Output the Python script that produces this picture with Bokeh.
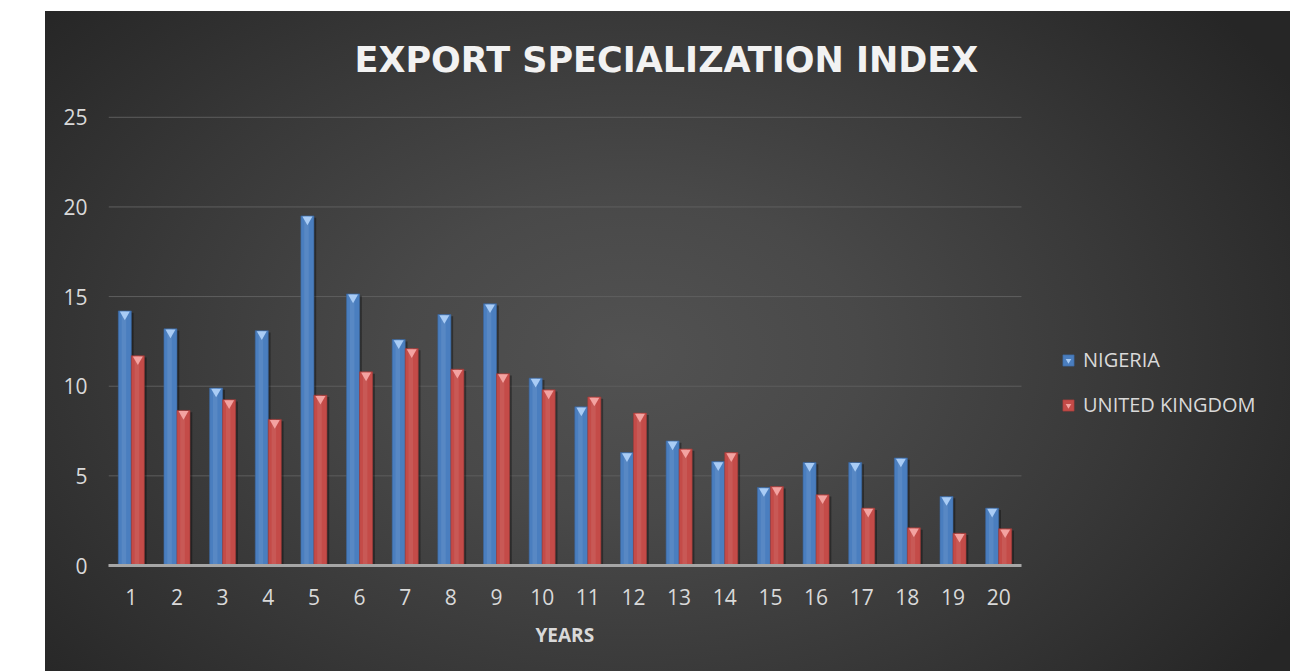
from bokeh.plotting import figure
from bokeh.models import (Range1d, FixedTicker, Legend, LegendItem, Title,
                          ColumnDataSource, InlineStyleSheet, Spacer)
from bokeh.transform import dodge
from bokeh.layouts import row, column
from bokeh.embed import file_html
from bokeh.resources import INLINE

# ---- data ----
years = ["1", "2", "3", "4", "5", "6", "7", "8", "9", "10",
         "11", "12", "13", "14", "15", "16", "17", "18", "19", "20"]
nigeria = [14.2, 13.2, 9.9, 13.1, 19.5, 15.15, 12.6, 14.0, 14.6, 10.45,
           8.85, 6.3, 6.95, 5.8, 4.35, 5.75, 5.75, 6.0, 3.85, 3.2]
united_kingdom = [11.7, 8.65, 9.25, 8.15, 9.5, 10.8, 12.1, 10.95, 10.7, 9.8,
                  9.4, 8.5, 6.5, 6.3, 4.4, 3.95, 3.2, 2.1, 1.8, 2.05]
series_names = ["NIGERIA", "UNITED KINGDOM"]
y_ticks = [0, 5, 10, 15, 20, 25]
chart_title = "EXPORT SPECIALIZATION INDEX"
x_title = "YEARS"

FONT = "Open Sans"
BAR_W = 0.285
OFF = 0.1425

pos = list(range(1, len(years) + 1))          # slot of each category
x_lo, x_hi = pos[0] - 0.5, pos[-1] + 0.5       # extent of the category axis

src = ColumnDataSource(dict(
    pos=pos,
    nig=nigeria,
    uk=united_kingdom,
    nig_cap=[v - 0.2 for v in nigeria],
    uk_cap=[v - 0.2 for v in united_kingdom],
    nig_sh=[v - 0.1 for v in nigeria],
    uk_sh=[v - 0.1 for v in united_kingdom],
))
grid_src = ColumnDataSource(dict(y=y_ticks, x0=[x_lo] * len(y_ticks),
                                 x1=[x_hi] * len(y_ticks)))

# frame continues to the right to host the legend; the axis covers x_lo..x_hi
p = figure(width=1245, height=660,
           x_range=Range1d(x_lo, x_lo + 25.893),
           y_range=Range1d(0, 25.1),
           min_border_left=63, min_border_right=0,
           min_border_top=104, min_border_bottom=106,
           toolbar_location=None, output_backend="svg")

p.stylesheets = [InlineStyleSheet(css=":host { background: radial-gradient(ellipse 62% 80% at 47% 52%, #525252 0%, #494949 30%, #383838 65%, #262626 100%); }")]
p.border_fill_alpha = 0
p.background_fill_alpha = 0
p.outline_line_color = None

# title (trailing empty line lifts it away from the plot area)
p.title.text = chart_title + "\n"
p.title.align = "left"
p.title.offset = 246
p.title.standoff = 0
p.title.text_line_height = 0.88
p.title.text_font = "DejaVu Sans"
p.title.text_font_size = "35px"
p.title.text_font_style = "bold"
p.title.text_color = "#f2f2f2"

# grid (drawn over the category extent only)
p.xgrid.grid_line_color = None
p.ygrid.grid_line_color = None
p.segment(x0="x0", x1="x1", y0="y", y1="y", source=grid_src,
          line_color="#5e5e5e", line_width=1)

# axes
p.yaxis.ticker = FixedTicker(ticks=y_ticks)
p.yaxis.axis_line_color = None
p.yaxis.major_tick_line_color = None
p.yaxis.minor_tick_line_color = None
p.yaxis.major_label_standoff = 15
p.yaxis.major_label_text_font = FONT
p.yaxis.major_label_text_font_size = "21px"
p.yaxis.major_label_text_color = "#d9d9d9"

p.xaxis.ticker = FixedTicker(ticks=pos)
p.xaxis.major_label_overrides = dict(zip(pos, years))
p.xaxis.bounds = (x_lo, x_hi)
p.xaxis.axis_line_color = "#a6a6a6"
p.xaxis.axis_line_width = 3
p.xaxis.major_tick_line_color = None
p.xaxis.minor_tick_line_color = None
p.xaxis.major_label_standoff = 17
p.xaxis.major_label_text_font = FONT
p.xaxis.major_label_text_font_size = "21px"
p.xaxis.major_label_text_color = "#d9d9d9"

# x-axis title, centred under the category axis
xt = Title(text=x_title, align="left", offset=427, vertical_align="top",
           standoff=28, text_font=FONT, text_font_size="19px",
           text_font_style="bold", text_color="#d9d9d9")
p.add_layout(xt, "below")

# shadows
for col, off in (("nig_sh", -OFF), ("uk_sh", OFF)):
    p.vbar(x=dodge("pos", off + 0.05, range=p.x_range), top=col, width=BAR_W,
           source=src, fill_color="black", fill_alpha=0.35, line_color=None)

# bars
nb = p.vbar(x=dodge("pos", -OFF, range=p.x_range), top="nig", width=BAR_W,
            source=src, fill_color="#4a7ebf", line_color="#3a679f", line_width=0.6)
ub = p.vbar(x=dodge("pos", OFF, range=p.x_range), top="uk", width=BAR_W,
            source=src, fill_color="#c44b48", line_color="#a33b39", line_width=0.6)

# highlights
p.vbar(x=dodge("pos", -OFF - 0.02, range=p.x_range), top="nig", width=0.1,
       source=src, fill_color="white", fill_alpha=0.08, line_color=None)
p.vbar(x=dodge("pos", OFF - 0.02, range=p.x_range), top="uk", width=0.1,
       source=src, fill_color="white", fill_alpha=0.08, line_color=None)

# top bevel caps
nc = p.scatter(x=dodge("pos", -OFF, range=p.x_range), y="nig_cap", source=src,
               marker="inverted_triangle", size=10, fill_color="#a9ccf5",
               line_color=None)
uc = p.scatter(x=dodge("pos", OFF, range=p.x_range), y="uk_cap", source=src,
               marker="inverted_triangle", size=10, fill_color="#f3a3a1",
               line_color=None)

legend = Legend(items=[LegendItem(label=series_names[0], renderers=[nb, nc]),
                       LegendItem(label=series_names[1], renderers=[ub, uc])],
                location=(953, 147), orientation="vertical")
legend.background_fill_alpha = 0
legend.border_line_alpha = 0
legend.padding = 0
legend.margin = 0
legend.spacing = 18
legend.glyph_width = 14
legend.glyph_height = 14
legend.label_height = 20
legend.label_standoff = 8
legend.label_text_font = FONT
legend.label_text_font_size = "20px"
legend.label_text_color = "#d9d9d9"
p.add_layout(legend, "center")

layout = column(Spacer(height=11), row(Spacer(width=45), p))
open("out.html", "w").write(file_html(layout, INLINE))
